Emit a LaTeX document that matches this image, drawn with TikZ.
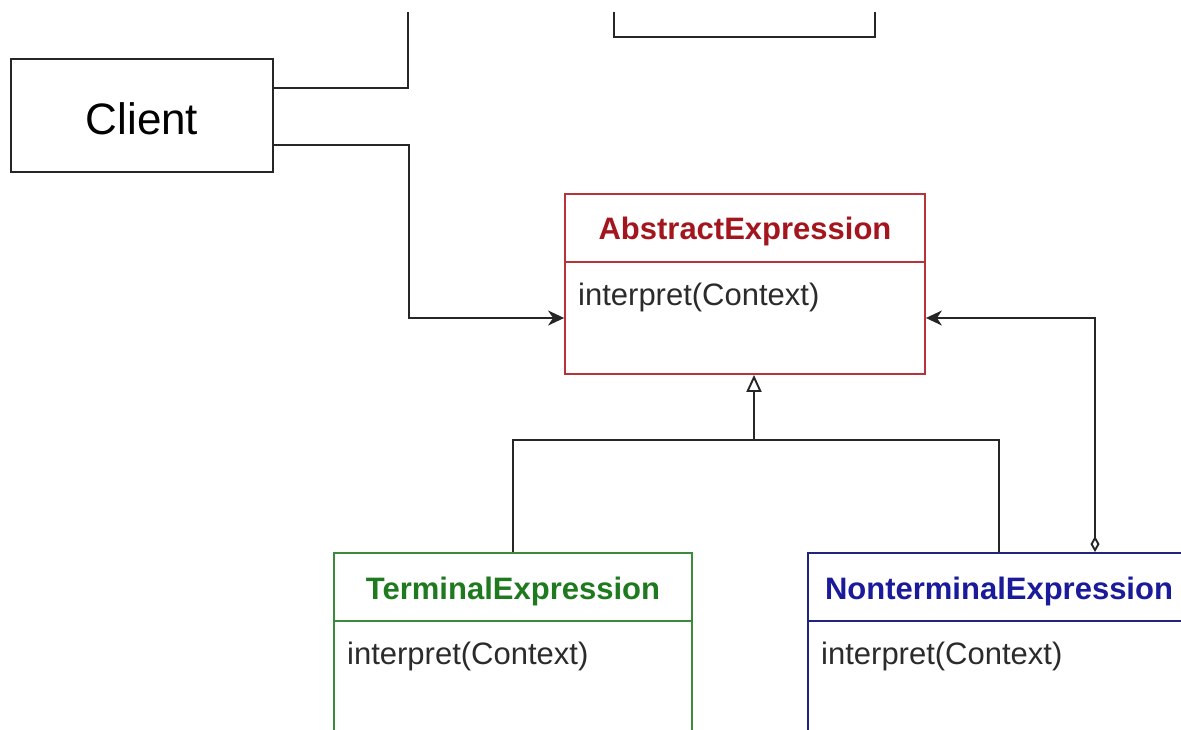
\documentclass[tikz,border=0pt]{standalone}
\usepackage{fontspec}
\setmainfont{Liberation Sans}
\usetikzlibrary{arrows.meta}
\definecolor{absline}{HTML}{B8323A}
\definecolor{abstext}{HTML}{A3161E}
\definecolor{termline}{HTML}{3C8A3C}
\definecolor{termtext}{HTML}{1F7A1F}
\definecolor{ntline}{HTML}{22227F}
\definecolor{nttext}{HTML}{1A1A9A}
\definecolor{optext}{HTML}{2B2B2B}
\tikzset{
  wire/.style={draw=black!85, line width=1.9pt},
  plainbox/.style={draw=black!85, line width=1.9pt, inner sep=0pt},
  classhead/.style={line width=1.8pt, inner sep=0pt, minimum height=68pt,
    font=\fontsize{31}{36}\selectfont\bfseries, text height=30pt, text depth=6pt},
  classbody/.style={line width=1.8pt, inner sep=0pt},
  optext/.style={inner sep=0pt, anchor=west, text=optext,
    font=\fontsize{31}{36}\selectfont},
  assoc/.style={wire, -{Stealth[length=16pt,width=15pt,inset=5pt]}},
  inherit/.style={wire, -{Triangle[open,length=17pt,width=15pt,fill=white]}},
  aggr/.style={wire, {Diamond[open,length=16pt,width=9pt,fill=white]}-{Stealth[length=16pt,width=15pt,inset=5pt]}}
}
\begin{document}
\begin{tikzpicture}[x=1pt,y=-1pt]
\useasboundingbox (0,0) rectangle (1181,730);
\clip (0,0) rectangle (1181,730);
\fill[white] (0,0) rectangle (1181,730);

% Client and the box above
\node[plainbox, minimum width=262pt, minimum height=113pt,
      font=\fontsize{44}{50}\selectfont, text height=39pt, text depth=0pt]
      (client) at (142,115.5) {Client};
\node[plainbox, minimum width=261pt, minimum height=120pt] (ctx) at (744.5,-23) {};
\fill[white] (600,-90) rectangle (890,12);

% AbstractExpression
\node[classhead, draw=absline, text=abstext, minimum width=360pt] (abshead) at (745,228) {AbstractExpression};
\node[classbody, draw=absline, minimum width=360pt, minimum height=112pt] (absbody) at (745,318) {};
\node[optext] (absop) at (578,297) {interpret(Context)};

% TerminalExpression
\node[classhead, draw=termline, text=termtext, minimum width=358pt] (thead) at (513,587) {TerminalExpression};
\node[classbody, draw=termline, minimum width=358pt, minimum height=160pt] (tbody) at (513,701) {};
\node[optext] (top) at (347,656) {interpret(Context)};

% NonterminalExpression
\node[classhead, draw=ntline, text=nttext, minimum width=382pt] (nthead) at (999,587) {NonterminalExpression};
\node[classbody, draw=ntline, minimum width=382pt, minimum height=160pt] (ntbody) at (999,701) {};
\node[optext] (ntop) at (821,656) {interpret(Context)};

% Connectors
\coordinate (up) at (408,12);
\draw[wire] ([yshift=27.5pt]client.east) -| (up);
\draw[assoc] ([yshift=-29.5pt]client.east) -- ++(135,0) |- (absbody.west);

\coordinate (j) at (754,440);
\draw[wire] (thead.north) |- (j) -| (nthead.north);
\draw[inherit] (j) -- (j |- absbody.south);

\draw[aggr] ([xshift=96pt]nthead.north) |- (absbody.east);
\end{tikzpicture}
\end{document}
